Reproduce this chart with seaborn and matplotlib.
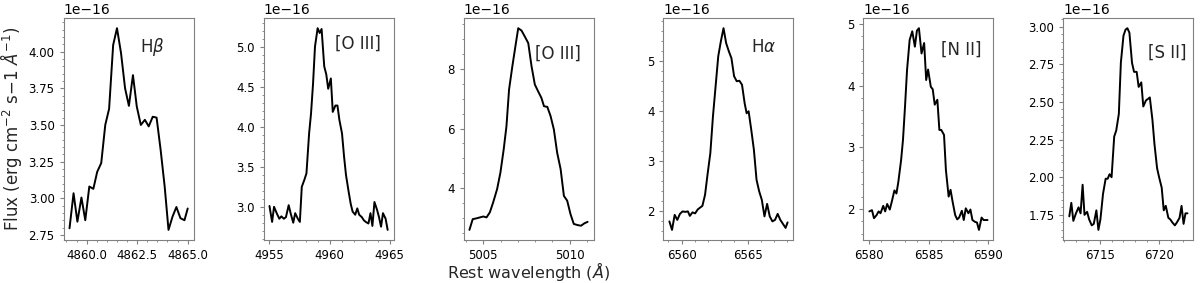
"""
Emission line profiles: flux vs rest wavelength for six lines
"""
import numpy as np
import pandas as pd
import matplotlib
matplotlib.use('Agg')
import matplotlib.pyplot as plt
from matplotlib.ticker import AutoMinorLocator
import seaborn as sns

# Line names shown in each panel
line_names = [r'H$\beta$', '[O III]', '[O III]', r'H$\alpha$', '[N II]', '[S II]']

# Rest wavelengths (Angstrom) and flux (units of 1e-16 erg cm^-2 s^-1 A^-1)
hb_wave = [4859.15, 4859.35, 4859.54, 4859.74, 4859.93, 4860.13, 4860.33, 4860.52,
           4860.72, 4860.92, 4861.11, 4861.31, 4861.50, 4861.70, 4861.90, 4862.09,
           4862.29, 4862.48, 4862.68, 4862.88, 4863.07, 4863.27, 4863.46, 4863.66,
           4863.86, 4864.05, 4864.25, 4864.44, 4864.64, 4864.84, 4865.00]
hb_flux = [2.795, 3.034, 2.84, 3.005, 2.85, 3.08, 3.064, 3.18,
           3.24, 3.50, 3.61, 4.045, 4.16, 3.99, 3.75, 3.63,
           3.84, 3.625, 3.50, 3.535, 3.49, 3.556, 3.55, 3.33,
           3.08, 2.784, 2.875, 2.94, 2.864, 2.85, 2.93]

o3a_wave = [4955.00, 4955.22, 4955.38, 4955.60, 4955.82, 4955.99, 4956.20, 4956.37,
            4956.60, 4956.76, 4956.98, 4957.14, 4957.36, 4957.53, 4957.69, 4957.91,
            4958.08, 4958.30, 4958.46, 4958.63, 4958.79, 4959.01, 4959.18, 4959.34,
            4959.56, 4959.73, 4959.89, 4960.11, 4960.27, 4960.49, 4960.66, 4960.82,
            4961.04, 4961.21, 4961.37, 4961.59, 4961.76, 4961.92, 4962.14, 4962.31,
            4962.47, 4962.69, 4962.86, 4963.02, 4963.24, 4963.41, 4963.57, 4963.74,
            4963.96, 4964.12, 4964.29, 4964.45, 4964.67, 4964.84]
o3a_flux = [3.01, 2.81, 3.00, 2.92, 2.85, 2.88, 2.85, 2.87,
            3.02, 2.92, 2.80, 2.92, 2.85, 2.81, 3.25, 3.34,
            3.42, 3.92, 4.17, 4.55, 5.01, 5.24, 5.18, 5.23,
            4.76, 4.66, 4.48, 4.61, 4.19, 4.27, 4.27, 4.09,
            3.92, 3.63, 3.40, 3.19, 3.04, 2.94, 2.90, 2.98,
            2.90, 2.87, 2.83, 2.81, 2.79, 2.92, 2.76, 3.06,
            2.96, 2.87, 2.75, 2.92, 2.85, 2.71]

o3b_wave = [5004.20, 5004.39, 5004.62, 5004.81, 5005.00, 5005.19, 5005.38, 5005.57,
            5005.80, 5005.99, 5006.18, 5006.34, 5006.49, 5006.68, 5006.87, 5007.02,
            5007.21, 5007.40, 5007.60, 5007.79, 5007.98, 5008.17, 5008.36, 5008.51,
            5008.70, 5008.89, 5009.08, 5009.27, 5009.47, 5009.66, 5009.85, 5010.04,
            5010.23, 5010.46, 5010.65, 5010.84, 5011.03]
o3b_flux = [2.60, 2.96, 2.99, 3.02, 3.05, 3.02, 3.19, 3.52,
            3.97, 4.52, 5.30, 6.08, 7.31, 8.09, 8.81, 9.37,
            9.29, 9.09, 8.87, 8.09, 7.48, 7.25, 7.03, 6.75,
            6.73, 6.42, 5.97, 5.19, 4.64, 3.74, 3.58, 3.13,
            2.80, 2.76, 2.74, 2.82, 2.87]

ha_wave = [6559.08, 6559.28, 6559.48, 6559.68, 6559.88, 6560.08, 6560.28, 6560.48,
           6560.63, 6560.83, 6561.03, 6561.23, 6561.43, 6561.58, 6561.78, 6561.98,
           6562.18, 6562.38, 6562.58, 6562.78, 6562.98, 6563.18, 6563.38, 6563.58,
           6563.78, 6563.98, 6564.18, 6564.38, 6564.58, 6564.78, 6564.93, 6565.08,
           6565.28, 6565.48, 6565.68, 6565.88, 6566.08, 6566.28, 6566.48, 6566.68,
           6566.88, 6567.08, 6567.28, 6567.48, 6567.68, 6567.88, 6568.03]
ha_flux = [1.79, 1.62, 1.92, 1.82, 1.94, 1.99, 1.98, 1.99,
           1.90, 1.97, 1.95, 2.03, 2.07, 2.10, 2.32, 2.75,
           3.15, 3.89, 4.49, 5.09, 5.39, 5.65, 5.35, 5.19,
           5.05, 4.69, 4.59, 4.60, 4.52, 4.15, 3.95, 3.99,
           3.62, 3.22, 2.62, 2.39, 2.22, 1.89, 2.14, 1.89,
           1.79, 1.82, 1.94, 1.82, 1.74, 1.66, 1.77]

n2_wave = [6580.00, 6580.22, 6580.39, 6580.61, 6580.78, 6580.94, 6581.17, 6581.33,
           6581.50, 6581.72, 6581.89, 6582.11, 6582.28, 6582.44, 6582.67, 6582.83,
           6583.00, 6583.17, 6583.39, 6583.61, 6583.83, 6584.00, 6584.17, 6584.39,
           6584.61, 6584.78, 6584.94, 6585.17, 6585.33, 6585.50, 6585.72, 6585.89,
           6586.05, 6586.28, 6586.44, 6586.67, 6586.83, 6587.00, 6587.22, 6587.39,
           6587.55, 6587.78, 6587.94, 6588.11, 6588.33, 6588.50, 6588.67, 6588.89,
           6589.05, 6589.22, 6589.44, 6589.61, 6589.94]
n2_flux = [1.96, 1.98, 1.85, 1.90, 1.96, 1.93, 2.05, 1.96,
           2.08, 1.99, 2.12, 2.30, 2.25, 2.44, 2.79, 3.12,
           3.66, 4.25, 4.74, 4.88, 4.63, 4.89, 4.93, 4.52,
           4.69, 4.09, 4.26, 3.98, 3.94, 3.69, 3.77, 3.28,
           3.28, 3.20, 2.63, 2.20, 2.31, 2.12, 1.90, 1.83,
           1.86, 1.97, 1.82, 2.01, 1.93, 1.99, 1.82, 1.79,
           1.78, 1.66, 1.86, 1.82, 1.82]

s2_wave = [6712.44, 6712.61, 6712.78, 6713.00, 6713.22, 6713.39, 6713.56, 6713.72,
           6713.94, 6714.11, 6714.33, 6714.50, 6714.72, 6714.89, 6715.06, 6715.28,
           6715.50, 6715.67, 6715.83, 6716.00, 6716.22, 6716.39, 6716.61, 6716.78,
           6717.00, 6717.17, 6717.33, 6717.50, 6717.72, 6717.89, 6718.11, 6718.28,
           6718.50, 6718.67, 6718.89, 6719.06, 6719.22, 6719.44, 6719.61, 6719.83,
           6720.00, 6720.22, 6720.39, 6720.56, 6720.78, 6720.94, 6721.11, 6721.33,
           6721.50, 6721.72, 6721.89, 6722.06, 6722.22, 6722.39]
s2_flux = [1.74, 1.83, 1.71, 1.76, 1.80, 1.76, 1.95, 1.75,
           1.77, 1.72, 1.68, 1.69, 1.78, 1.65, 1.72, 1.89,
           1.99, 1.99, 2.02, 2.00, 2.27, 2.31, 2.42, 2.76,
           2.94, 2.98, 2.99, 2.96, 2.76, 2.70, 2.70, 2.60,
           2.63, 2.47, 2.51, 2.52, 2.53, 2.38, 2.22, 2.06,
           2.00, 1.93, 1.78, 1.81, 1.73, 1.72, 1.70, 1.68,
           1.70, 1.73, 1.81, 1.69, 1.76, 1.76]

waves = [hb_wave, o3a_wave, o3b_wave, ha_wave, n2_wave, s2_wave]
fluxes = [hb_flux, o3a_flux, o3b_flux, ha_flux, n2_flux, s2_flux]

# Tick spacing per panel (x in Angstrom, y in 1e-16 units)
x_steps = [2.5, 5, 5, 5, 5, 5]
y_steps = [0.25, 0.5, 2, 1, 1, 0.25]
# Where the line name sits in axes coordinates
label_pos = [(0.585, 0.847), (0.546, 0.86), (0.55, 0.815),
             (0.67, 0.848), (0.60, 0.833), (0.65, 0.823)]


def ticks_in_view(lo, hi, step):
    """Major tick positions at multiples of step that lie inside [lo, hi]"""
    first = np.ceil(lo / step - 1e-9) * step
    return np.arange(first, hi + step * 1e-9, step)


sns.set_style('ticks')
plt.rcParams.update({
    'font.family': 'DejaVu Sans',
    'axes.edgecolor': 'grey',
    'axes.linewidth': 0.8,
    'xtick.color': 'grey',
    'ytick.color': 'grey',
    'xtick.labelcolor': 'black',
    'ytick.labelcolor': 'black',
    'xtick.labelsize': 8.5,
    'ytick.labelsize': 8.5,
    'xtick.major.size': 3,
    'ytick.major.size': 3,
    'xtick.minor.size': 1.5,
    'ytick.minor.size': 1.5,
    'xtick.minor.visible': True,
    'ytick.minor.visible': True,
    'axes.labelsize': 12,
})

fig, axes = plt.subplots(1, 6, figsize=(12, 2.83), dpi=100)
fig.subplots_adjust(left=0.053, right=0.9945, top=0.936, bottom=0.152, wspace=0.538)

for i, ax in enumerate(axes):
    df = pd.DataFrame({'wave': waves[i], 'flux': np.array(fluxes[i]) * 1e-16})
    sns.lineplot(data=df, x='wave', y='flux', ax=ax, color='black',
                 linewidth=1.4, sort=False, estimator=None)
    ax.set_xlabel('')
    ax.set_ylabel('')
    xlo, xhi = ax.get_xlim()
    ylo, yhi = ax.get_ylim()
    ax.set_xticks(ticks_in_view(xlo, xhi, x_steps[i]))
    ax.set_yticks(ticks_in_view(ylo, yhi, y_steps[i] * 1e-16))
    ax.set_xlim(xlo, xhi)
    ax.set_ylim(ylo, yhi)
    ax.xaxis.set_minor_locator(AutoMinorLocator(5))
    ax.yaxis.set_minor_locator(AutoMinorLocator(4 if y_steps[i] == 2 else 5))
    ax.yaxis.get_offset_text().set_fontsize(10)
    ax.text(label_pos[i][0], label_pos[i][1], line_names[i],
            transform=ax.transAxes, fontsize=12)

axes[0].set_ylabel(r'Flux (erg cm$^{-2}$ s$-$1 $\AA^{-1}$)', labelpad=3)
axes[2].set_xlabel(r'Rest wavelength ($\AA$)', fontsize=11.5, labelpad=-1.5)

plt.savefig('out.png', dpi=100)
plt.close()
